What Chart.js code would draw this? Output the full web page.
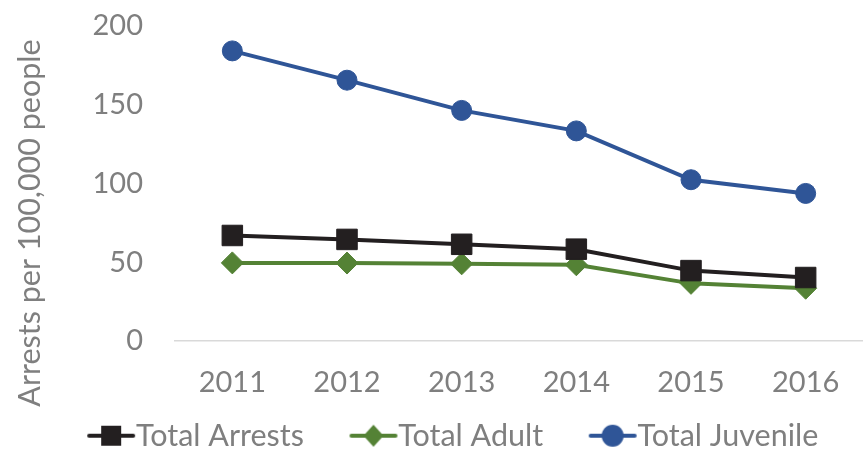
<!DOCTYPE html>
<html>
<head>
<meta charset="utf-8">
<script src="https://cdn.jsdelivr.net/npm/chart.js@4.4.1/dist/chart.umd.min.js"></script>
<style>
  html, body { margin: 0; padding: 0; background: #fff; overflow: hidden; }
  #wrap { width: 863px; height: 461px; }
  canvas { display: block; }
</style>
</head>
<body>
<div id="wrap"><canvas id="myChart"></canvas></div>
<script>
const years = ['2011', '2012', '2013', '2014', '2015', '2016'];
const totalArrests = [67, 64.5, 61.4, 58.3, 44.7, 40.3];
const totalAdult = [49.6, 49.5, 49, 48.4, 36.6, 33.5];
const totalJuvenile = [184.2, 165.6, 146.4, 133.4, 102.4, 93.7];
const yTicks = [0, 50, 100, 150, 200];
const yTitle = 'Arrests per 100,000 people';

const textColor = '#7f7f7f';
const fontFamily = 'Lato, "Open Sans", sans-serif';
const fontSize = 29;
const legendFontSize = 30.5;

// line+marker swatch for each legend entry; the blank left part spaces the items apart
function legendSwatch(color, style) {
  const c = document.createElement('canvas');
  c.width = 107;
  c.height = 26;
  const ctx = c.getContext('2d');
  ctx.translate(57, 0);
  ctx.strokeStyle = color;
  ctx.fillStyle = color;
  ctx.lineWidth = 4;
  ctx.lineCap = 'round';
  ctx.beginPath();
  ctx.moveTo(3, 13);
  ctx.lineTo(47, 13);
  ctx.stroke();
  ctx.beginPath();
  if (style === 'rect') {
    ctx.rect(15, 3, 20, 20);
  } else if (style === 'rectRot') {
    ctx.moveTo(25, 2); ctx.lineTo(35, 13); ctx.lineTo(25, 24); ctx.lineTo(15, 13);
    ctx.closePath();
  } else {
    ctx.arc(25, 13, 11, 0, Math.PI * 2);
  }
  ctx.fill();
  return c;
}

// y title sits lower than the plot's middle, so draw it by hand
const yTitlePlugin = {
  id: 'yTitle',
  afterDraw(chart) {
    const c = chart.ctx;
    c.save();
    c.translate(30, 223);
    c.rotate(-Math.PI / 2);
    c.font = '30.5px ' + fontFamily;
    c.fillStyle = textColor;
    c.textAlign = 'center';
    c.textBaseline = 'middle';
    c.fillText(yTitle, 0, 0);
    c.restore();
  }
};

const series = [
  { label: 'Total Arrests', data: totalArrests, color: '#231f20', style: 'rect', radius: 14.5 },
  { label: 'Total Adult', data: totalAdult, color: '#548235', style: 'rectRot', radius: 11 },
  { label: 'Total Juvenile', data: totalJuvenile, color: '#2f5597', style: 'circle', radius: 10 }
];

const ctx = document.getElementById('myChart').getContext('2d');
const myChart = new Chart(ctx, {
  type: 'line',
  data: {
    labels: years,
    datasets: series.map(s => ({
      label: s.label,
      data: s.data,
      borderColor: s.color,
      backgroundColor: s.color,
      borderWidth: 4,
      pointStyle: s.style,
      pointRadius: s.radius,
      pointBorderWidth: 1,
      pointBackgroundColor: s.color,
      pointBorderColor: s.color,
      tension: 0,
      clip: false
    }))
  },
  plugins: [yTitlePlugin],
  options: {
    responsive: true,
    maintainAspectRatio: false,
    animation: false,
    layout: { autoPadding: false, padding: { top: 26, right: 0, bottom: 0, left: 0 } },
    plugins: {
      tooltip: { enabled: false },
      legend: {
        position: 'bottom',
        labels: {
          usePointStyle: true,
          pointStyleWidth: 76,
          padding: 3,
          color: textColor,
          font: { family: fontFamily, size: legendFontSize },
          generateLabels: (chart) => series.map((s, i) => ({
            text: s.label,
            fontColor: textColor,
            pointStyle: legendSwatch(s.color, s.style),
            datasetIndex: i,
            lineWidth: 0,
            hidden: false
          }))
        }
      }
    },
    scales: {
      x: {
        offset: true,
        afterFit: (axis) => { axis.height = 76.5; axis.paddingLeft = 0; axis.paddingRight = 0; },
        grid: { display: false, drawTicks: false },
        border: { display: true, color: '#d9d9d9', width: 1.5 },
        ticks: { color: textColor, font: { family: fontFamily, size: fontSize }, padding: 24 }
      },
      y: {
        min: 0,
        max: 200,
        afterBuildTicks: (axis) => { axis.ticks = yTicks.map(v => ({ value: v })); },
        afterFit: (axis) => { axis.width = 175; axis.paddingTop = 0; axis.paddingBottom = 0; },
        grid: { display: false, drawTicks: false },
        border: { display: false },
        ticks: { color: textColor, font: { family: fontFamily, size: fontSize }, padding: 32 }
      }
    }
  }
});
</script>
</body>
</html>
